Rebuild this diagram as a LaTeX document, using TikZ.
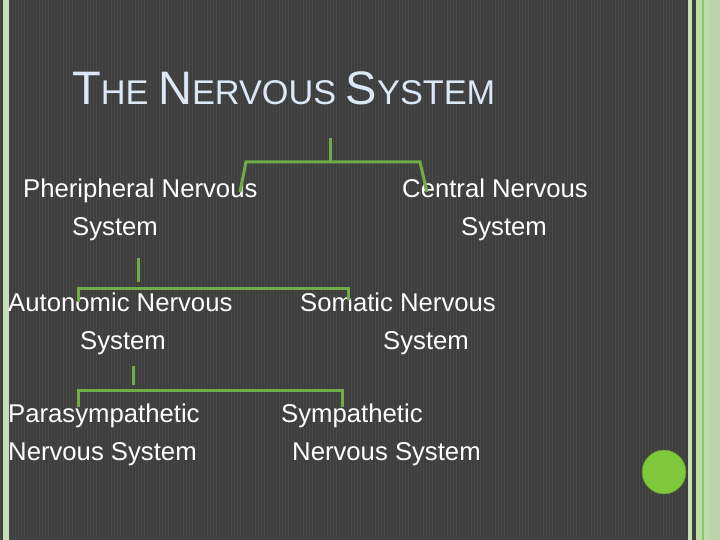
\documentclass[tikz,border=0pt]{standalone}
\usepackage{fontspec}
\setmainfont{Liberation Sans}
\usetikzlibrary{positioning}
\definecolor{slate}{HTML}{3E3E3E}
\definecolor{slateline}{HTML}{474747}
\definecolor{leaf}{HTML}{70AD47}
\definecolor{paleleaf}{HTML}{C5E0B4}
\definecolor{midleaf}{HTML}{8CC46A}
\definecolor{dot}{HTML}{7FC83A}
\definecolor{titleblue}{HTML}{DCE8F5}
\tikzset{
  lbl/.style={anchor=base west,inner sep=0pt,text=white,font=\fontsize{25.7}{30}\selectfont},
  link/.style={draw=leaf,line width=3pt},
  band/.style={fill=#1,draw=none}
}

\newcommand{\initcap}[1]{{\fontsize{47}{47}\selectfont #1}}

\begin{document}
\begin{tikzpicture}[x=1pt,y=-1pt]
  \useasboundingbox (0,0) rectangle (720,540);
  % striped slide background
  \fill[slate] (0,0) rectangle (720,540);
  \foreach \x in {0,3,...,686}
    \fill[slateline] (\x,0) rectangle ++(1,540);
  % green edge bands
  \fill[band=paleleaf] (3,0) rectangle (9,540);
  \fill[band=paleleaf] (688,0) rectangle (692,540);
  \fill[band=paleleaf!90!leaf] (696,0) rectangle (720,540);
  \fill[band=midleaf] (702,0) rectangle (704,540);
  \fill[band=paleleaf!85!gray] (710,0) rectangle (720,540);
  % corner dot
  \fill[dot,draw=leaf!80!black,line width=0.6pt] (664,472) circle (22);

  % title
  \node[anchor=base west,inner sep=0pt,text=titleblue,font=\fontsize{34.3}{35}\selectfont] (title) at (72,105)
    {\initcap{T}HE \initcap{N}ERVOUS \initcap{S}YSTEM};

  % first level
  \node[lbl] (pns1) at (23,198) {Pheripheral Nervous};
  \node[lbl] (pns2) at (72,236) {System};
  \node[lbl] (cns1) at (402,198) {Central Nervous};
  \node[lbl] (cns2) at (461,236) {System};
  % second level
  \node[lbl] (ans1) at (8,311) {Autonomic Nervous};
  \node[lbl] (ans2) at (80,349) {System};
  \node[lbl] (sns1) at (300,311) {Somatic Nervous};
  \node[lbl] (sns2) at (383,349) {System};
  % third level
  \node[lbl] (para1) at (8,422) {Parasympathetic};
  \node[lbl] (para2) at (8,460) {Nervous System};
  \node[lbl] (symp1) at (281,422) {Sympathetic};
  \node[lbl] (symp2) at (292,460) {Nervous System};

  % bracket joints
  \coordinate (root) at (330,138);
  \coordinate (rootj) at (330,162);
  \coordinate (pnsk) at (246,162);
  \coordinate (pnsl) at (240,192);
  \coordinate (cnsk) at (420,162);
  \coordinate (cnsl) at (427,192);
  \coordinate (pnsout) at (138,258);
  \coordinate (pnsend) at (138,282);
  \coordinate (ansk) at (78,288);
  \coordinate (ansl) at (78,302);
  \coordinate (snsk) at (348,288);
  \coordinate (snsl) at (348,300);
  \coordinate (ansout) at (133,366);
  \coordinate (ansend) at (133,385);
  \coordinate (parak) at (78,390);
  \coordinate (paral) at (78,407);
  \coordinate (sympk) at (342,390);
  \coordinate (sympl) at (342,407);

  % connectors
  \draw[link] (root) -- (rootj);
  \draw[link] (pnsl) -- (pnsk) -- (cnsk) -- (cnsl);
  \draw[link] (pnsout) -- (pnsend);
  \draw[link] (ansl) -- (ansk) -- (snsk) -- (snsl);
  \draw[link] (ansout) -- (ansend);
  \draw[link] (paral) -- (parak) -- (sympk) -- (sympl);
\end{tikzpicture}
\end{document}
